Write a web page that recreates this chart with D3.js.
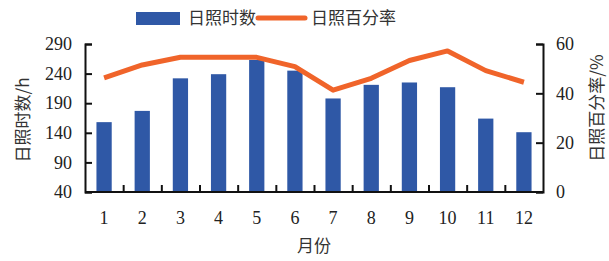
<!DOCTYPE html>
<html>
<head>
<meta charset="utf-8">
<script src="https://cdn.jsdelivr.net/npm/d3@7"></script>
<style>
  body { margin: 0; background: #fff; }
</style>
</head>
<body>
<div id="chart"></div>
<script>
// months
const months = ["1", "2", "3", "4", "5", "6", "7", "8", "9", "10", "11", "12"];
// sunshine hours (h)
const sunHours = [158, 177, 232, 239, 263, 245, 198, 221, 225, 217, 164, 141];
// sunshine percentage (%)
const sunPct = [46.3, 51.5, 54.6, 54.6, 54.6, 50.8, 41.3, 46.1, 53.3, 57.2, 49.2, 44.5];
const leftTicks = [40, 90, 140, 190, 240, 290];
const rightTicks = [0, 20, 40, 60];

const width = 609, height = 261;
const margin = { left: 85, right: 66, top: 44, bottom: 69 };
const blue = "#2f58a6", orange = "#f0642a";
const numFont = "'Liberation Serif', 'DejaVu Serif', serif";
const cjkFont = "'Noto Sans CJK SC', sans-serif";

const svg = d3.select("#chart").append("svg")
  .attr("width", width)
  .attr("height", height);

const x = d3.scaleBand()
  .domain(months)
  .range([margin.left, width - margin.right]);

const yL = d3.scaleLinear()
  .domain([40, 290])
  .range([height - margin.bottom, margin.top]);

const yR = d3.scaleLinear()
  .domain([0, 60])
  .range([height - margin.bottom, margin.top]);

const barW = x.bandwidth() * 0.4;

// bars
svg.append("g")
  .selectAll("rect")
  .data(sunHours)
  .enter()
  .append("rect")
  .attr("x", (d, i) => x(months[i]) + x.bandwidth() / 2 - barW / 2)
  .attr("y", d => yL(d))
  .attr("width", barW)
  .attr("height", d => yL(40) - yL(d))
  .attr("fill", blue);

// line
const line = d3.line()
  .x((d, i) => x(months[i]) + x.bandwidth() / 2)
  .y(d => yR(d));

svg.append("path")
  .datum(sunPct)
  .attr("d", line)
  .attr("fill", "none")
  .attr("stroke", orange)
  .attr("stroke-width", 5)
  .attr("stroke-linejoin", "round");

// axes
const axisL = d3.axisLeft(yL).tickValues(leftTicks).tickSize(-7).tickPadding(13);
const axisR = d3.axisRight(yR).tickValues(rightTicks).tickSize(-7).tickPadding(13);

const gL = svg.append("g")
  .attr("transform", `translate(${margin.left},0)`)
  .call(axisL);
const gR = svg.append("g")
  .attr("transform", `translate(${width - margin.right},0)`)
  .call(axisR);

// x axis: ticks between categories, pointing up
const xLin = d3.scaleLinear().domain([0, 12]).range(x.range());
const gX = svg.append("g")
  .attr("transform", `translate(0,${height - margin.bottom})`)
  .call(d3.axisBottom(xLin).tickValues(d3.range(1, 12)).tickSize(-7).tickFormat(""));

[gL, gR, gX].forEach(g => {
  g.attr("font-family", numFont).attr("font-size", 18);
  g.select(".domain").attr("stroke", "#111").attr("stroke-width", 2);
  g.selectAll(".tick line").attr("stroke", "#111").attr("stroke-width", 2);
  g.selectAll(".tick text").attr("fill", "#222");
});
gX.select(".domain").attr("d", `M${margin.left},0H${width - margin.right}`);

// month labels
svg.append("g")
  .selectAll("text")
  .data(months)
  .enter()
  .append("text")
  .attr("x", d => x(d) + x.bandwidth() / 2)
  .attr("y", 224)
  .attr("text-anchor", "middle")
  .attr("font-family", numFont)
  .attr("font-size", 18)
  .attr("fill", "#222")
  .text(d => d);

// axis titles
const title = (sel) => sel
  .attr("font-family", cjkFont)
  .attr("font-size", 17)
  .attr("fill", "#333");

svg.append("text")
  .call(title)
  .attr("x", 314)
  .attr("y", 252)
  .attr("text-anchor", "middle")
  .text("月份");

svg.append("text")
  .call(title)
  .attr("transform", "translate(29,120) rotate(-90)")
  .attr("text-anchor", "middle")
  .text("日照时数/h");

svg.append("text")
  .call(title)
  .attr("transform", "translate(603,108) rotate(-90)")
  .attr("text-anchor", "middle")
  .text("日照百分率/%");

// legend
const legend = svg.append("g");
legend.append("rect")
  .attr("x", 136).attr("y", 12)
  .attr("width", 44).attr("height", 13)
  .attr("fill", blue);
legend.append("text")
  .call(title)
  .attr("x", 188).attr("y", 24)
  .text("日照时数");
legend.append("line")
  .attr("x1", 258).attr("x2", 305)
  .attr("y1", 18).attr("y2", 18)
  .attr("stroke", orange)
  .attr("stroke-width", 5)
  .attr("stroke-linecap", "round");
legend.append("text")
  .call(title)
  .attr("x", 311).attr("y", 24)
  .text("日照百分率");
</script>
</body>
</html>
